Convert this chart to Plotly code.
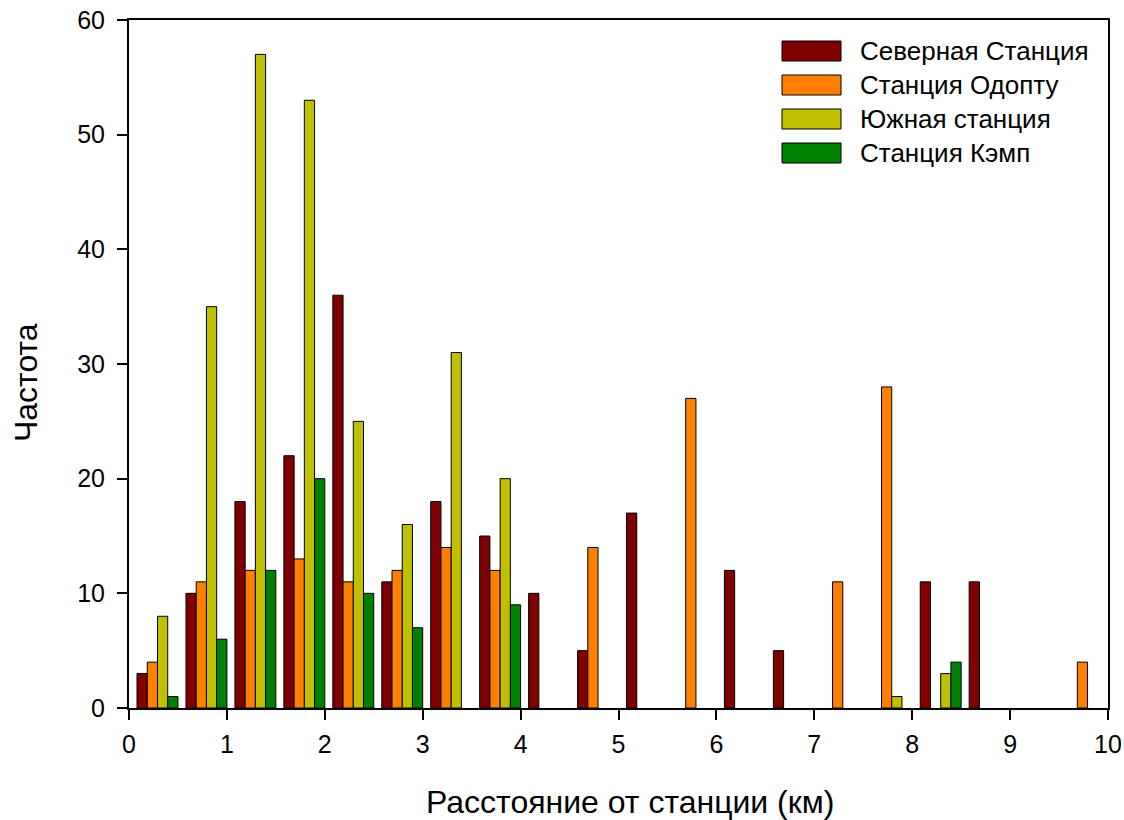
import plotly.graph_objects as go

# Distance bins (left edge of each 0.5 km bin)
bin_left = [0.0, 0.5, 1.0, 1.5, 2.0, 2.5, 3.0, 3.5, 4.0, 4.5,
            5.0, 5.5, 6.0, 6.5, 7.0, 7.5, 8.0, 8.5, 9.0, 9.5]

series_names = ["Северная Станция", "Станция Одопту", "Южная станция", "Станция Кэмп"]

north = [3, 10, 18, 22, 36, 11, 18, 15, 10, 5, 17, 0, 12, 5, 0, 0, 11, 11, 0, 0]
odoptu = [4, 11, 12, 13, 11, 12, 14, 12, 0, 14, 0, 27, 0, 0, 11, 28, 0, 0, 0, 4]
south = [8, 35, 57, 53, 25, 16, 31, 20, 0, 0, 0, 0, 0, 0, 0, 1, 3, 0, 0, 0]
camp = [1, 6, 12, 20, 10, 7, 0, 9, 0, 0, 0, 0, 0, 0, 0, 0, 4, 0, 0, 0]

x_ticks = [0, 1, 2, 3, 4, 5, 6, 7, 8, 9, 10]
y_ticks = [0, 10, 20, 30, 40, 50, 60]

colors = ["#800000", "#FF8000", "#C0C000", "#008000"]
FONT = "Liberation Sans, Arial, sans-serif"

bar_w = 0.1045
start = 0.082

fig = go.Figure()
for i, (name, vals) in enumerate(zip(series_names, [north, odoptu, south, camp])):
    fig.add_trace(go.Bar(
        x=bin_left, y=vals, name=name,
        width=bar_w, offset=start + i * bar_w,
        marker=dict(color=colors[i],
                    line=dict(color="black", width=[1 if v > 0 else 0 for v in vals])),
        showlegend=False,
    ))

# Plot-area geometry in pixels, used for the hand-built legend
L, R, T, B = 129, 1108, 20, 708
W, H = R - L, B - T

def px(xp):
    return (xp - L) / W

def py(yp):
    return (B - yp) / H

shapes = []
annotations = []
row_y = [51, 85, 119, 153]
for i, name in enumerate(series_names):
    shapes.append(dict(type="rect", xref="paper", yref="paper",
                       x0=px(782), x1=px(841), y0=py(row_y[i] + 10), y1=py(row_y[i] - 10),
                       fillcolor=colors[i], line=dict(color="black", width=1)))
    annotations.append(dict(xref="paper", yref="paper", x=px(858), y=py(row_y[i]),
                            xanchor="left", yanchor="middle", showarrow=False,
                            text=name, font=dict(family=FONT, size=26, color="black")))

annotations.append(dict(xref="paper", yref="paper", x=px(630), y=py(802),
                        xanchor="center", yanchor="middle", showarrow=False,
                        text="Расстояние от станции (км)",
                        font=dict(family=FONT, size=32, color="black")))
annotations.append(dict(xref="paper", yref="paper", x=px(26), y=py(383),
                        xanchor="center", yanchor="middle", showarrow=False, textangle=-90,
                        text="Частота",
                        font=dict(family=FONT, size=32, color="black")))

fig.update_layout(
    width=1124, height=820,
    margin=dict(l=L, r=1124 - R, t=T, b=820 - B, autoexpand=False),
    paper_bgcolor="white", plot_bgcolor="white",
    barmode="overlay",
    shapes=shapes, annotations=annotations,
    font=dict(family=FONT, color="black"),
)
fig.update_xaxes(range=[0, 10], tickvals=x_ticks, ticks="outside", ticklen=10, tickwidth=1.5,
                 tickcolor="black", showline=True, linecolor="black", linewidth=2, mirror=True,
                 showgrid=False, zeroline=False, automargin=False, ticklabelstandoff=3,
                 tickfont=dict(family=FONT, size=25))
fig.update_yaxes(range=[0, 60], tickvals=y_ticks, ticks="outside", ticklen=10, tickwidth=1.5,
                 tickcolor="black", showline=True, linecolor="black", linewidth=2, mirror=True,
                 showgrid=False, zeroline=False, automargin=False, ticklabelstandoff=7,
                 tickfont=dict(family=FONT, size=25))

fig.write_html("out.html")
